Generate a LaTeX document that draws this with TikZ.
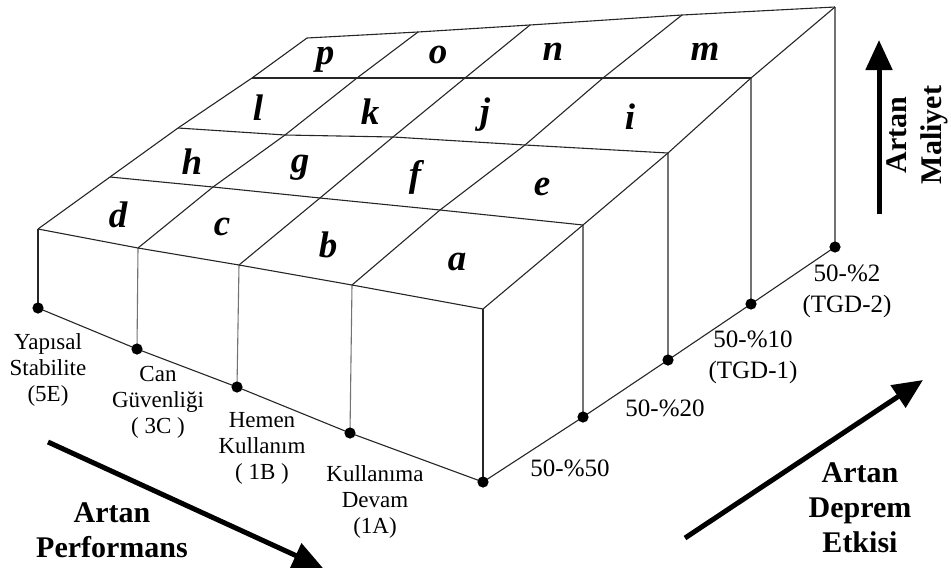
\documentclass[tikz,border=0pt]{standalone}
\usepackage{fontspec}
\setmainfont{Liberation Serif}
\usetikzlibrary{arrows.meta}
\tikzset{
  edge/.style={draw=black!85, line width=1.1pt, line join=round},
  post/.style={draw=black!55, line width=1.1pt},
  cell/.style={font=\fontsize{37}{37}\selectfont\bfseries\itshape, inner sep=0pt},
  lvl/.style={font=\fontsize{23}{26}\selectfont, align=center, inner sep=0pt},
  haz/.style={font=\fontsize{25}{31}\selectfont, align=center, inner sep=0pt},
  big/.style={font=\fontsize{30}{35}\selectfont\bfseries, align=center, inner sep=0pt},
  bigarrow/.style={line width=5pt, -{Triangle[length=30pt,width=26pt]}},
  dotmark/.style={fill=black}
}
\begin{document}
\begin{tikzpicture}[x=1pt,y=-1pt]
\useasboundingbox (0,0) rectangle (951,571);
% grid points of the top surface
\coordinate (P00) at (38,229);  \coordinate (P01) at (138,248); \coordinate (P02) at (239,265); \coordinate (P03) at (352,285); \coordinate (P04) at (483,309);
\coordinate (P10) at (110,177); \coordinate (P11) at (213,187); \coordinate (P12) at (320,198); \coordinate (P13) at (440,210); \coordinate (P14) at (583,225);
\coordinate (P20) at (178,128); \coordinate (P21) at (285,135); \coordinate (P22) at (393,137); \coordinate (P23) at (525,145); \coordinate (P24) at (668,153);
\coordinate (P30) at (252,78);  \coordinate (P31) at (357,78);  \coordinate (P32) at (465,78);  \coordinate (P33) at (603,78);  \coordinate (P34) at (751,78);
\coordinate (P40) at (307,38);  \coordinate (P41) at (418,32);  \coordinate (P42) at (530,25);  \coordinate (P43) at (682,15);  \coordinate (P44) at (835,7);
% base points
\coordinate (B0) at (38,308); \coordinate (B1) at (137,349); \coordinate (B2) at (237,387); \coordinate (B3) at (350,433); \coordinate (B4) at (483,482);
\coordinate (R1) at (583,417); \coordinate (R2) at (668,360); \coordinate (R3) at (751,304); \coordinate (R4) at (835,247);

% verticals
\draw[edge] (P00) -- (B0);
\draw[post] (P01) -- (B1);
\draw[post] (P02) -- (B2);
\draw[post] (P03) -- (B3);
\draw[edge] (P04) -- (B4);
\draw[post] (P14) -- (R1);
\draw[post] (P24) -- (R2);
\draw[post] (P34) -- (R3);
\draw[post] (P44) -- (R4);

% row lines
\foreach \r in {0,...,4}{
  \draw[edge] (P\r0) -- (P\r1) -- (P\r2) -- (P\r3) -- (P\r4);
}
% column lines
\foreach \c in {0,...,4}{
  \draw[edge] (P0\c) -- (P1\c) -- (P2\c) -- (P3\c) -- (P4\c);
}
% base lines
\draw[edge] (B0) -- (B1) -- (B2) -- (B3) -- (B4) -- (R1) -- (R2) -- (R3) -- (R4);

% dots
\foreach \p in {B0,B1,B2,B3,B4,R1,R2,R3,R4}{
  \fill[dotmark] (\p) circle (5.6pt);
}

% cell letters
\node[cell] (cd) at (118,215) {d};
\node[cell] (cc) at (222,227) {c};
\node[cell] (cb) at (328,245) {b};
\node[cell] (ca) at (457,262) {a};
\node[cell] (ch) at (192,162) {h};
\node[cell] (cg) at (300,168) {g};
\node[cell] (cf) at (415,177) {f};
\node[cell] (ce) at (542,187) {e};
\node[cell] (cl) at (258,108) {l};
\node[cell] (ck) at (370,112) {k};
\node[cell] (cj) at (485,115) {j};
\node[cell] (ci) at (630,117) {i};
\node[cell] (cp) at (325,60) {p};
\node[cell] (co) at (438,55) {o};
\node[cell] (cn) at (553,52) {n};
\node[cell] (cm) at (705,52) {m};

% performance level labels
\node[lvl] (l5e) at (48,370) {Yapısal\\Stabilite\\(5E)};
\node[lvl] (l3c) at (158,402) {Can\\Güvenliği\\( 3C )};
\node[lvl] (l1b) at (262,448) {Hemen\\Kullanım\\( 1B )};
\node[lvl] (l1a) at (375,502) {Kullanıma\\Devam\\(1A)};

% hazard labels
\node[haz] (h50) at (570,468) {50-\%50};
\node[haz] (h20) at (665,408) {50-\%20};
\node[haz] (h10) at (753,357) {50-\%10\\(TGD-1)};
\node[haz] (h2) at (847,291) {50-\%2\\(TGD-2)};

% big arrows
\coordinate (pa1) at (48,442); \coordinate (pa2) at (323,568);
\draw[bigarrow] (pa1) -- (pa2);
\node[big] (perf) at (112,530) {Artan\\Performans};

\coordinate (da1) at (685,538); \coordinate (da2) at (923,380);
\draw[bigarrow] (da1) -- (da2);
\node[big] (dep) at (860,508) {Artan\\Deprem\\Etkisi};

\coordinate (ma1) at (879,214); \coordinate (ma2) at (879,40);
\draw[bigarrow] (ma1) -- (ma2);
\node[big, rotate=90] (mal) at (917,135) {Artan\\Maliyet};
\end{tikzpicture}
\end{document}
